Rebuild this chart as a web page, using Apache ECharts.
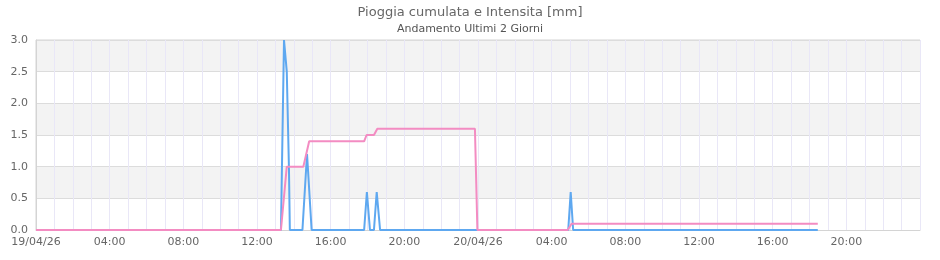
<!DOCTYPE html>
<html>
<head>
<meta charset="utf-8">
<script src="https://cdn.jsdelivr.net/npm/echarts@6/dist/echarts.min.js"></script>
<style>
  html, body { margin: 0; padding: 0; background: #fff; }
  #chart { width: 940px; height: 260px; }
</style>
</head>
<body>
<div id="chart"></div>
<script>
// ---- data ----
const startTime = '2026-04-19T00:00';
const axisHours = 48; // two days shown
const tickLabelDates = ['19/04/26', '20/04/26'];

const intensitaTimes = [
  '2026-04-19T00:00', '2026-04-19T13:18', '2026-04-19T13:28', '2026-04-19T13:37',
  '2026-04-19T13:44', '2026-04-19T13:47', '2026-04-19T14:28', '2026-04-19T14:43',
  '2026-04-19T14:49', '2026-04-19T14:58', '2026-04-19T17:49', '2026-04-19T17:58',
  '2026-04-19T18:08', '2026-04-19T18:21', '2026-04-19T18:30', '2026-04-19T18:41',
  '2026-04-20T04:54', '2026-04-20T05:02', '2026-04-20T05:10', '2026-04-20T18:27'
];
const intensitaValues = [
  0, 0, 3.0, 2.5,
  1.0, 0, 0, 1.2,
  1.2, 0, 0, 0.6,
  0, 0, 0.6, 0,
  0, 0.6, 0, 0
];

const cumulataTimes = [
  '2026-04-19T00:00', '2026-04-19T13:18', '2026-04-19T13:37', '2026-04-19T14:31',
  '2026-04-19T14:50', '2026-04-19T17:49', '2026-04-19T17:57', '2026-04-19T18:21',
  '2026-04-19T18:32', '2026-04-19T23:50', '2026-04-19T23:58', '2026-04-20T04:52',
  '2026-04-20T05:05', '2026-04-20T18:27'
];
const cumulataValues = [
  0, 0, 1.0, 1.0,
  1.4, 1.4, 1.5, 1.5,
  1.6, 1.6, 0, 0,
  0.1, 0.1
];

// ---- build ----
const t0 = Date.parse(startTime);
const toHours = t => (Date.parse(t) - t0) / 3600000;
const pairs = (times, vals) => times.map((t, i) => [toHours(t), vals[i]]);

const chart = echarts.init(document.getElementById('chart'), null, { renderer: 'canvas' });
const font = 'DejaVu Sans';
chart.setOption({
  animation: false,
  backgroundColor: '#ffffff',
  title: [
    { text: 'Pioggia cumulata e Intensita [mm]', left: 'center', top: 1,
      textStyle: { fontFamily: font, fontSize: 13, fontWeight: 'normal', color: '#666' } },
    { text: 'Andamento Ultimi 2 Giorni', left: 'center', top: 19,
      textStyle: { fontFamily: font, fontSize: 11, fontWeight: 'normal', color: '#555' } }
  ],
  grid: { left: 36, right: 20, top: 40, bottom: 30, show: true,
    borderColor: '#d4d4d4', borderWidth: 1, backgroundColor: 'transparent' },
  xAxis: {
    type: 'value', min: 0, max: axisHours, interval: 4,
    axisLine: { show: true, lineStyle: { color: '#d4d4d4' } },
    axisTick: { show: false },
    axisLabel: {
      fontFamily: font, fontSize: 11, color: '#666', margin: 7,
      formatter: v => {
        if (v >= axisHours) return '';
        if (v % 24 === 0) return tickLabelDates[v / 24];
        const h = v % 24;
        return (h < 10 ? '0' : '') + h + ':00';
      }
    },
    splitLine: { show: true, lineStyle: { color: '#e9e7f7', width: 1 } },
    minorTick: { show: false, splitNumber: 4 },
    minorSplitLine: { show: true, lineStyle: { color: '#e9e7f7', width: 1 } }
  },
  yAxis: {
    type: 'value', min: 0, max: 3, interval: 0.5,
    axisLine: { show: true, lineStyle: { color: '#d4d4d4' } },
    axisTick: { show: false },
    axisLabel: { fontFamily: font, fontSize: 11, color: '#666', margin: 8,
      formatter: v => v.toFixed(1) },
    splitLine: { show: true, lineStyle: { color: '#dcdcdc' } },
    splitArea: { show: true, areaStyle: { color: ['#ffffff', '#f3f3f3'] } }
  },
  series: [
    { name: 'Intensita', type: 'line', data: pairs(intensitaTimes, intensitaValues),
      showSymbol: false, lineStyle: { color: '#5ea8f0', width: 2 }, itemStyle: { color: '#5ea8f0' } },
    { name: 'Cumulata', type: 'line', data: pairs(cumulataTimes, cumulataValues),
      showSymbol: false, lineStyle: { color: '#f38cc2', width: 2 }, itemStyle: { color: '#f38cc2' } }
  ]
});
</script>
</body>
</html>
